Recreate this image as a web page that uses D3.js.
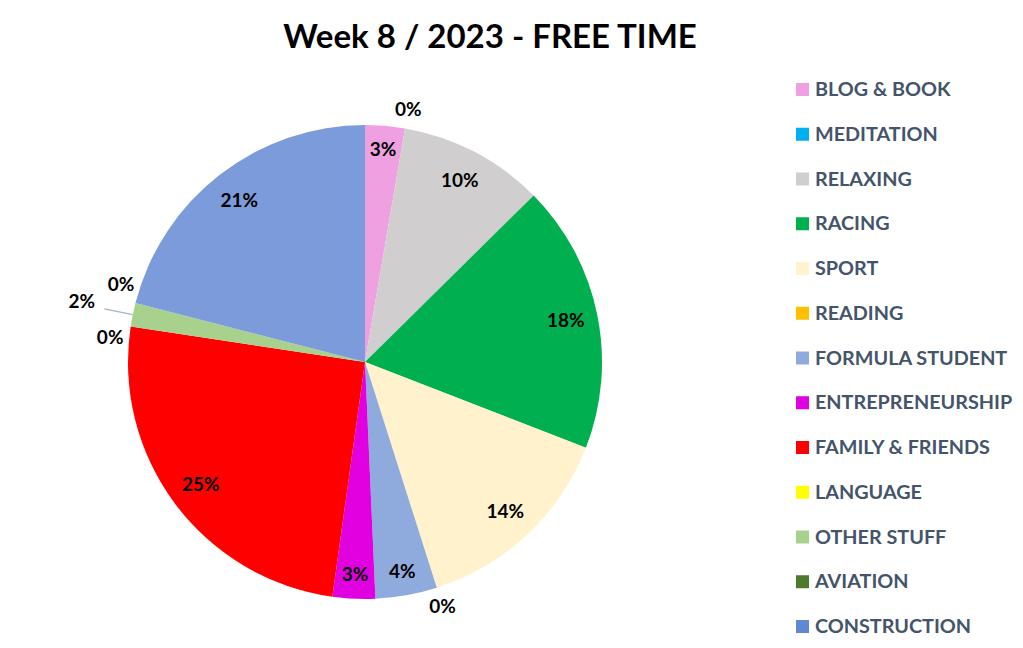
<!DOCTYPE html>
<html>
<head>
<meta charset="utf-8">
<script src="https://cdn.jsdelivr.net/npm/d3@7"></script>
<style>
  html, body { margin: 0; padding: 0; background: #fff; }
  svg { display: block; }
</style>
</head>
<body>
<svg id="chart" width="1023" height="648"></svg>
<script>
// ---- data ----
const title = "Week 8 / 2023 - FREE TIME";
const categories = ["BLOG & BOOK", "MEDITATION", "RELAXING", "RACING", "SPORT", "READING",
  "FORMULA STUDENT", "ENTREPRENEURSHIP", "FAMILY & FRIENDS", "LANGUAGE", "OTHER STUFF",
  "AVIATION", "CONSTRUCTION"];
const values = [2.7, 0, 9.9, 18.3, 14.2, 0, 4.2, 2.9, 25.2, 0, 1.6, 0, 21.0];
const colors = ["#EFA0E0", "#00B0F0", "#D0CECE", "#00B050", "#FFF2CC", "#FFC000",
  "#8FAADC", "#E000E0", "#FF0000", "#FFFF00", "#A9D18E", "#4E7A30", "url(#constrGrad)"];
const legendColors = ["#EFA0E0", "#00B0F0", "#D0CECE", "#00B050", "#FFF2CC", "#FFC000",
  "#8FAADC", "#E000E0", "#FF0000", "#FFFF00", "#A9D18E", "#4E7A30", "#5F87D2"];

// ---- layout ----
const svg = d3.select("#chart");
const cx = 365, cy = 362, R = 237;
const font = "Lato, 'Open Sans', sans-serif";

const defs = svg.append("defs");
const g1 = defs.append("linearGradient").attr("id", "constrGrad")
  .attr("gradientUnits", "userSpaceOnUse")
  .attr("x1", 0).attr("y1", cy - R).attr("x2", 0).attr("y2", cy);
g1.append("stop").attr("offset", "0%").attr("stop-color", "#7B9BDA");
g1.append("stop").attr("offset", "100%").attr("stop-color", "#577ECB");

svg.append("text")
  .attr("x", 490).attr("y", 48)
  .attr("text-anchor", "middle")
  .style("font-family", font).style("font-weight", 700).style("font-size", "33px")
  .attr("fill", "#000").text(title);

const total = d3.sum(values);
const pie = d3.pie().value(d => d).sort(null);
const arcs = pie(values);
const arc = d3.arc().innerRadius(0).outerRadius(R);

const g = svg.append("g").attr("transform", `translate(${cx},${cy})`);
g.selectAll("path.slice").data(arcs).enter().append("path")
  .attr("class", "slice")
  .attr("d", arc)
  .attr("fill", (d, i) => colors[i])
  .attr("stroke", "none");

// label placement
const nudge = {9: -3.2, 11: 3.3}; // degrees, to avoid overlap of outside labels
function pt(angle, r) { return [Math.sin(angle) * r, -Math.cos(angle) * r]; }

arcs.forEach((d, i) => {
  const pct = d.data / total * 100;
  const label = Math.round(pct) + "%";
  const mid = (d.startAngle + d.endAngle) / 2 + (nudge[i] || 0) * Math.PI / 180;
  let p;
  if (pct === 0) {
    p = pt(mid, 256);
  } else if (pct < 2.5) {
    const a = pt(mid, R), b = pt(mid, 266);
    g.append("line").attr("x1", a[0]).attr("y1", a[1]).attr("x2", b[0]).attr("y2", b[1])
      .attr("stroke", "#A6B3C9").attr("stroke-width", 1.2);
    p = pt(mid, 289);
    p[1] -= 3;
  } else if (pct < 5) {
    p = pt(mid, 213);
  } else {
    p = pt(mid, 205);
  }
  g.append("text")
    .attr("x", p[0]).attr("y", p[1])
    .attr("text-anchor", "middle").attr("dy", "0.35em")
    .style("font-family", font).style("font-weight", 700).style("font-size", "19px")
    .attr("fill", "#000").text(label);
});

// legend
const ly = d3.scalePoint().domain(categories).range([89, 626]);
const lg = svg.append("g");
categories.forEach((c, i) => {
  const y = ly(c);
  lg.append("rect").attr("x", 796).attr("y", y - 6).attr("width", 13).attr("height", 13)
    .attr("fill", legendColors[i]);
  lg.append("text").attr("x", 815).attr("y", y).attr("dy", "0.36em")
    .style("font-family", font).style("font-weight", 700).style("font-size", "19.8px")
    .attr("fill", "#44546A").text(c);
});
</script>
</body>
</html>
